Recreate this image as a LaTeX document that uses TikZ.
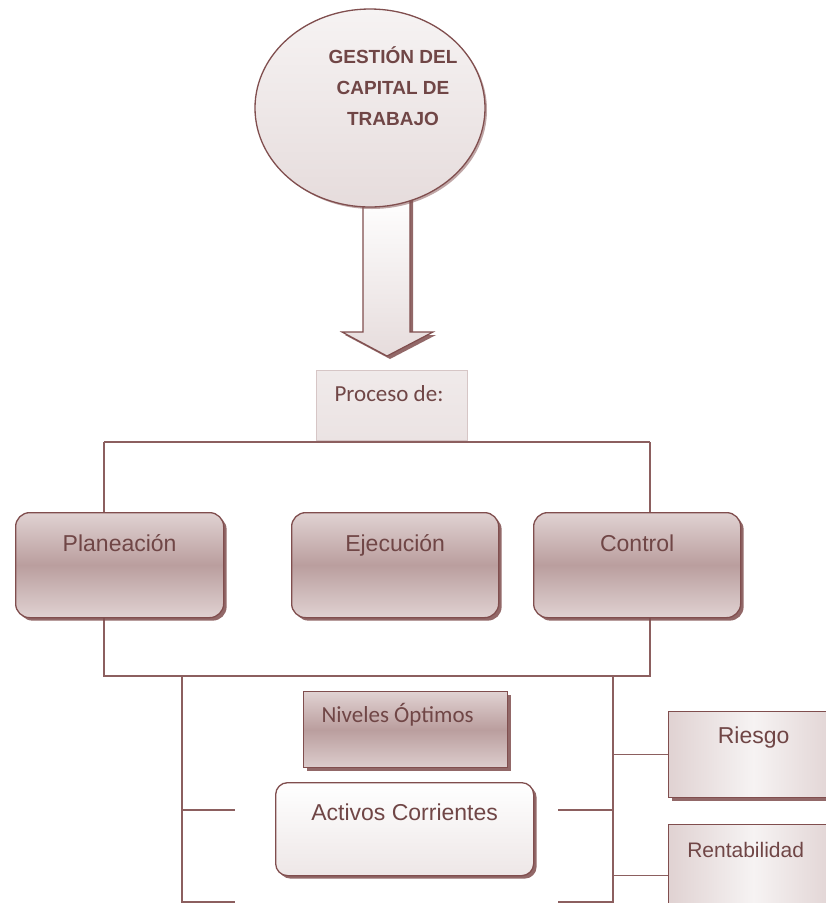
\documentclass[tikz,border=0pt]{standalone}
\usepackage{fontspec}
\newfontfamily\arialf{Liberation Sans}
\newfontfamily\calf{Carlito}
\usetikzlibrary{shadows,shapes.geometric}
\definecolor{boxline}{RGB}{128,78,78}
\definecolor{busline}{RGB}{140,95,95}
\definecolor{txt}{RGB}{112,70,70}
\definecolor{mauveT}{RGB}{224,210,210}
\definecolor{mauveM}{RGB}{186,158,158}
\definecolor{paleA}{RGB}{246,243,243}
\definecolor{paleB}{RGB}{230,220,220}
\definecolor{procline}{RGB}{214,198,198}
\tikzset{
  bus/.style={draw=busline, line width=1.4pt},
  shad/.style={drop shadow={shadow xshift=3pt, shadow yshift=-3pt, fill=boxline, opacity=.85}},
  mainbox/.style={rectangle, rounded corners=14pt, draw=boxline, line width=1.3pt, shad,
    top color=mauveT, bottom color=mauveT, middle color=mauveM, text=txt,
    font=\arialf\fontsize{23}{27}\selectfont, inner xsep=0pt, inner ysep=0pt, anchor=north west},
  sqbox/.style={rectangle, draw=boxline, line width=1.3pt, shad, text=txt,
    inner xsep=0pt, inner ysep=0pt, anchor=north west},
}
\begin{document}
\begin{tikzpicture}[x=1pt,y=-1pt]
\useasboundingbox (0,0) rectangle (826,903);
\clip (0,0) rectangle (826,903);
\fill[white] (0,0) rectangle (826,903);

% bus coordinates
\coordinate (tl) at (104,442);
\coordinate (tr) at (650,442);
\coordinate (bl) at (104,676);
\coordinate (br) at (650,676);
\coordinate (lb) at (182,676);
\coordinate (rb) at (613,676);
\coordinate (lbend) at (182,910);
\coordinate (rbend) at (613,910);
\coordinate (sl1) at (235,810);
\coordinate (sr1) at (558,810);
\coordinate (sl2) at (235,902);
\coordinate (sr2) at (558,902);

% block arrow
\draw[boxline, line width=1.2pt, top color=white, bottom color=paleB, shad]
  (363,195) -- (410,195) -- (410,332) -- (433,332) -- (387,356) -- (342,332) -- (363,332) -- cycle;

% title ellipse
\node[ellipse, draw=boxline, line width=1.3pt, minimum width=230pt, minimum height=198pt,
  top color=paleA, bottom color=paleB, drop shadow={shadow xshift=2pt, shadow yshift=-2pt, fill=boxline, opacity=.5}] (g) at (370,108) {};
\node[text=txt, font=\arialf\bfseries\fontsize{19}{31}\selectfont, align=center, anchor=north] (gt) at (393,43)
  {GESTIÓN DEL\\CAPITAL DE\\TRABAJO};

% bus lines
\draw[bus] (tl) -- (tr);
\draw[bus] (tl) -- (bl) -- (br) -- (tr);
\draw[bus] (lb) -- (lbend);
\draw[bus] (rb) -- (rbend);
\draw[bus] (lb |- sl1) -- (sl1);
\draw[bus] (sr1) -- (rb |- sr1);
\draw[bus] (lb |- sl2) -- (sl2);
\draw[bus] (sr2) -- (rb |- sr2);

% Proceso de
\node[rectangle, draw=procline, line width=1pt, top color=paleA!60!paleB, bottom color=paleB!80!white,
  text=txt, font=\calf\fontsize{23}{27}\selectfont, inner xsep=0pt, inner ysep=0pt,
  minimum width=151pt, text height=31pt, text depth=39pt, anchor=north west] (proc) at (316,370) {Proceso de:\hspace*{6pt}};

% main boxes
\node[mainbox, minimum width=208pt, text height=39pt, text depth=66pt] (plan) at (15,512) {Planeación};
\node[mainbox, minimum width=207pt, text height=39pt, text depth=66pt] (ejec) at (291,512) {Ejecución};
\node[mainbox, minimum width=207pt, text height=39pt, text depth=66pt] (ctrl) at (533,512) {Control};

% Niveles Optimos
\node[sqbox, top color=mauveT, bottom color=mauveT!90!mauveM, middle color=mauveM,
  font=\calf\fontsize{23}{27}\selectfont, minimum width=204pt, text height=31pt, text depth=45pt] (niv) at (303,691) {Niveles Óptimos\hspace*{16pt}};

% Activos Corrientes
\node[mainbox, rounded corners=12pt, top color=white, bottom color=paleB!70!white, middle color=paleA,
  minimum width=258pt, text height=38pt, text depth=55pt] (act) at (275,782) {Activos Corrientes};

% Riesgo / Rentabilidad
\node[sqbox, left color=mauveT, right color=mauveT, middle color=paleA,
  font=\arialf\fontsize{23}{27}\selectfont, minimum width=170pt, text height=32pt, text depth=54pt] (ries) at (668,711) {Riesgo};
\node[sqbox, left color=mauveT, right color=mauveT, middle color=paleA,
  font=\arialf\fontsize{21}{25}\selectfont, minimum width=170pt, text height=33pt, text depth=69pt] (rent) at (668,824) {Rentabilidad\hspace*{16pt}};
\draw[bus] (ries.west -| rb) -- (ries.west);
\draw[bus] (rent.west -| rb) -- (rent.west);
\end{tikzpicture}
\end{document}
